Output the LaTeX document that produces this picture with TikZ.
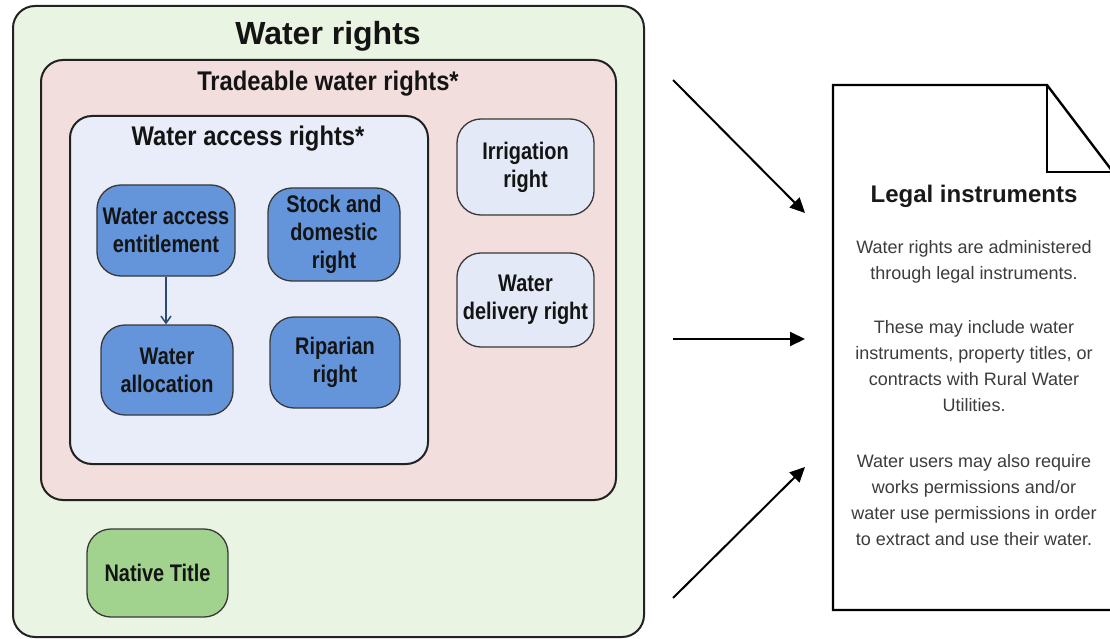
\documentclass[tikz,border=0pt]{standalone}
\usepackage{fontspec}
\setmainfont{Liberation Sans}
\newfontfamily\narrowfont[FakeStretch=0.83]{Liberation Sans}
\newfontfamily\titlefont[FakeStretch=0.88]{Liberation Sans}
\usetikzlibrary{arrows.meta}
\definecolor{greenfill}{HTML}{EAF4E2}
\definecolor{pinkfill}{HTML}{F3DEDE}
\definecolor{bluefill}{HTML}{E9EDF9}
\definecolor{itemblue}{HTML}{6495DA}
\definecolor{lightitem}{HTML}{E3E9F7}
\definecolor{nativefill}{HTML}{A1D38E}
\definecolor{bodytext}{HTML}{3C3C3C}
\definecolor{navy}{HTML}{2E4A72}
\definecolor{edge}{HTML}{222222}
\begin{document}
\begin{tikzpicture}[x=1pt,y=-1pt,
  container/.style={draw=edge, line width=2pt, rounded corners=22pt, inner sep=0pt},
  item/.style={draw=edge!90, line width=1.3pt, rounded corners=24pt, align=center,
    inner sep=0pt, text=black!92, font=\narrowfont\bfseries\fontsize{24}{28}\selectfont},
  bigtitle/.style={anchor=base, text=black!92, inner sep=0pt},
  bodypar/.style={anchor=north, align=center, text=bodytext, inner sep=0pt,
    font=\fontsize{18}{26}\selectfont},
  bigarrow/.style={line width=2pt, -{Triangle[length=15pt,width=14pt]}},
  smallarrow/.style={draw=navy, line width=1.5pt, -{Straight Barb[length=7pt,width=10pt]}}
]
\useasboundingbox (0,0) rectangle (1110,639);

% containers
\node[container, fill=greenfill, minimum width=631pt, minimum height=631pt] (rights) at (328.5,321.5) {};
\node[container, fill=pinkfill, minimum width=575pt, minimum height=440pt] (trade) at (328.5,280) {};
\node[container, fill=bluefill, minimum width=358pt, minimum height=348pt] (access) at (249,290) {};

% titles
\node[bigtitle, font=\bfseries\fontsize{32}{36}\selectfont] (rightsT) at (328,45) {Water rights};
\node[bigtitle, font=\titlefont\bfseries\fontsize{27}{30}\selectfont] (tradeT) at (328,91) {Tradeable water rights*};
\node[bigtitle, font=\titlefont\bfseries\fontsize{27}{30}\selectfont] (accessT) at (248,146) {Water access rights*};

% items
\node[item, fill=itemblue, minimum width=138pt, minimum height=91pt] (ent) at (166,230.5) {Water access\\entitlement};
\node[item, fill=itemblue, minimum width=132pt, minimum height=93pt] (stock) at (334,234.5) {Stock and\\domestic\\right};
\node[item, fill=itemblue, minimum width=132pt, minimum height=90pt] (alloc) at (167,370) {Water\\allocation};
\node[item, fill=itemblue, minimum width=130pt, minimum height=91pt] (rip) at (335,362.5) {Riparian\\right};
\node[item, fill=lightitem, minimum width=137pt, minimum height=96pt] (irr) at (525.5,167) {Irrigation\\right};
\node[item, fill=lightitem, minimum width=137pt, minimum height=94pt] (deliv) at (525.5,300) {Water\\delivery right};
\node[item, fill=nativefill, minimum width=141pt, minimum height=88pt] (native) at (157.5,573) {Native Title};

\draw[smallarrow] (ent.south) -- (ent.south |- alloc.north);

% legal document
\draw[line width=2.4pt, line join=miter, fill=white] (833,85) -- (1047,85) -- (1113,172) -- (1113,610) -- (833,610) -- cycle;
\draw[line width=2.4pt] (1047,85) -- (1047,172) -- (1113,172);
\node[anchor=base, inner sep=0pt, text=black!90, font=\bfseries\fontsize{24}{28}\selectfont] (legalT) at (974,202) {Legal instruments};
\node[bodypar] (p1) at (974,240) {Water rights are administered\\through legal instruments.};
\node[bodypar] (p2) at (974,320) {These may include water\\instruments, property titles, or\\contracts with Rural Water\\Utilities.};
\node[bodypar] (p3) at (974,454) {Water users may also require\\works permissions and/or\\water use permissions in order\\to extract and use their water.};

% arrows toward the document
\coordinate (s1) at (673,80);  \coordinate (e1) at (805,213);
\coordinate (s2) at (673,339); \coordinate (e2) at (805,339);
\coordinate (s3) at (673,598); \coordinate (e3) at (805,467);
\draw[bigarrow] (s1) -- (e1);
\draw[bigarrow] (s2) -- (e2);
\draw[bigarrow] (s3) -- (e3);
\end{tikzpicture}
\end{document}
